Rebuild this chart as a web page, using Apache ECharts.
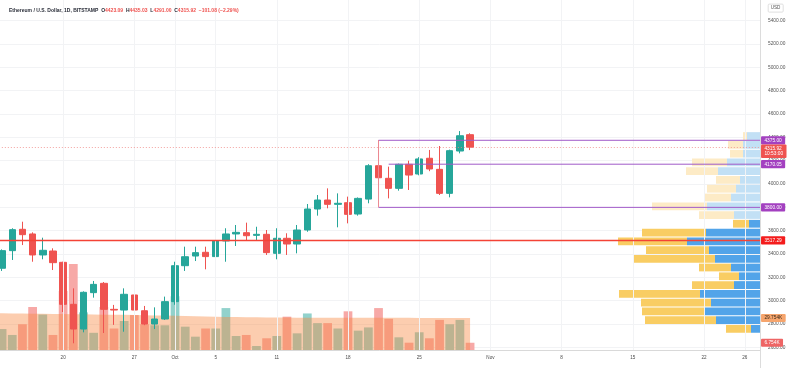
<!DOCTYPE html>
<html><head><meta charset="utf-8">
<script src="https://cdn.jsdelivr.net/npm/echarts@6/dist/echarts.min.js"></script>
<style>html,body{margin:0;padding:0;background:#fff}#c{width:795px;height:368px}</style>
</head><body><div id="c"></div>
<script>
// ---------- data ----------
const dates = ['Sep 13','Sep 14','Sep 15','Sep 16','Sep 17','Sep 18','Sep 19','Sep 20','Sep 21','Sep 22','Sep 23','Sep 24','Sep 25','Sep 26','Sep 27','Sep 28','Sep 29','Sep 30',
'Oct 1','Oct 2','Oct 3','Oct 4','Oct 5','Oct 6','Oct 7','Oct 8','Oct 9','Oct 10','Oct 11','Oct 12','Oct 13','Oct 14','Oct 15','Oct 16','Oct 17','Oct 18','Oct 19','Oct 20','Oct 21','Oct 22','Oct 23','Oct 24','Oct 25','Oct 26','Oct 27','Oct 28','Oct 29','Oct 30','Oct 31',
'Nov 1','Nov 2','Nov 3','Nov 4','Nov 5','Nov 6','Nov 7','Nov 8','Nov 9','Nov 10','Nov 11','Nov 12','Nov 13','Nov 14','Nov 15','Nov 16','Nov 17','Nov 18','Nov 19','Nov 20','Nov 21','Nov 22','Nov 23','Nov 24','Nov 25','Nov 26','Nov 27'];
// candles Sep 14 .. Oct 30
const opens  = [3278,3429,3612,3572,3392,3426,3329,2969,2757,3069,3149,2926,2920,3049,2914,2800,2843,2992,3300,3383,3415,3378,3512,3572,3583,3560,3569,3406,3535,3486,3606,3786,3863,3826,3840,3743,3871,4157,4049,3963,4169,4086,4221,4126,3920,4283,4423.09];
const closes = [3429,3609,3566,3392,3432,3326,2969,2757,3072,3140,2926,2920,3055,2920,2800,2843,2992,3300,3377,3412,3378,3512,3572,3586,3557,3569,3412,3535,3486,3606,3786,3863,3826,3835,3740,3877,4157,4054,3963,4169,4077,4215,4129,3920,4286,4414,4315.92];
const lows   = [3255,3349,3477,3334,3355,3263,2903,2635,2729,3026,2723,2793,2734,2915,2790,2757,2835,2965,3255,3340,3269,3370,3334,3469,3520,3520,3392,3355,3392,3406,3591,3729,3792,3629,3663,3729,3835,3950,3877,3943,3949,4075,4110,3906,3886,4263,4291.00];
const highs  = [3440,3621,3677,3586,3540,3449,3334,3106,3080,3169,3160,2964,3106,3163,2955,2943,3035,3334,3463,3463,3463,3540,3621,3649,3669,3634,3606,3621,3578,3649,3829,3906,3963,3920,3892,3885,4170,4375,4149,4175,4200,4230,4292,4326,4295,4454,4435.03];
// volume (thousands) Sep 14 .. Oct 30
const volumes = [19.5,14,24,40,33,14,55,80,35,16,40,20,27,32.5,24,23,23,50,21.7,12.4,20,20,39,13,14,3.7,10.9,13,31,15.5,34,25,25,20,36,18,21,39,29,11.8,6.8,16.5,10.9,28,24,28,6.754];
// volume moving average (thousands) Sep 13 .. Oct 30
const volumeMA = [34.2,34.1,34.0,33.9,33.8,33.7,33.6,33.5,33.3,33.2,33.0,32.9,32.8,32.7,32.6,32.4,32.2,32.0,31.8,31.6,31.4,31.2,31.0,30.8,30.6,30.5,30.4,30.3,30.2,30.2,30.1,30.1,30.0,30.0,30.0,30.0,30.0,29.9,29.9,29.9,29.9,29.9,29.8,29.8,29.8,29.8,29.8,29.754];
// volume profile rows, top to bottom
const profileEdges = [4449,4373,4298,4223,4148,4073,3998,3922,3847,3772,3697,3622,3547,3472,3397,3322,3247,3172,3096,3021,2946,2871,2796,2721];
const profileDown = [4,15,13,35,32,24,29,27,55,35,16,64,69,63,81,32,20,42,81,70,63,71,25];
const profileUp   = [13,17,17,33,42,20,24,29,53,26,11,54,73,51,45,29,21,26,60,49,55,44,9];
const valueAreaFirstRow = 10;
// date tick labels
const dateTicks = [['Sep 20','20'],['Sep 27','27'],['Oct 1','Oct'],['Oct 5','5'],['Oct 11','11'],['Oct 18','18'],['Oct 25','25'],['Nov 1','Nov'],['Nov 8','8'],['Nov 15','15'],['Nov 22','22'],['Nov 26','26']];
// drawn levels
const rangeLines = [['Oct 21',4375],['Oct 22',4170.05],['Oct 21',3800]];
const rangeEdge = [['Oct 21',3800,4375]];
const pocPrice = 3517.29, lastPrice = 4315.92;
const lastVolume = 6.754, maVolume = 29.754;

// ---------- chart ----------
const FONT = '"Liberation Sans", Arial, sans-serif';
const UP = '#26a69a', DOWN = '#ef5350';
const VOL_UP = '#92d2cc', VOL_DOWN = '#f7a9a7';
const PURPLE_LINE = '#a05ac8', PURPLE_TAG = '#a340c0';
const FS = 4.8;
const tickMap = Object.fromEntries(dateTicks);

const gridX = {left: -13.17, width: 773.2, outerBoundsMode: 'none', containLabel: false};
const candleData = ['-'].concat(opens.map((o, i) => [o, closes[i], lows[i], highs[i]]));
const volData = ['-'].concat(volumes.map((v, i) => ({value: v, itemStyle: {color: closes[i] >= opens[i] ? VOL_UP : VOL_DOWN}})));
const profileData = profileDown.map((d, i) => [d, profileUp[i], profileEdges[i + 1], profileEdges[i], i]);

function tag(value, text, bg, color, extra, labelExtra) {
  return Object.assign({
    yAxis: value,
    lineStyle: {color: 'rgba(0,0,0,0)', width: 0},
    label: Object.assign({show: true, position: 'end', distance: 1, formatter: text, backgroundColor: bg, color: color || '#fff',
      fontSize: FS, fontFamily: FONT, padding: [1.4, 3.4], lineHeight: 5.4, borderRadius: 1, opacity: 1}, labelExtra || {})
  }, extra || {});
}

const hiddenCat = (gi) => ({type: 'category', gridIndex: gi, data: dates, boundaryGap: true, show: false});

const option = {
  animation: false,
  backgroundColor: '#ffffff',
  title: [{
    left: 4, top: 3,
    text: '{n|Ethereum / U.S. Dollar, 1D, BITSTAMP}  {k|O}{v|4423.09}  {k|H}{v|4435.03}  {k|L}{v|4291.00}  {k|C}{v|4315.92}  {v|−101.08 (−2.29%)}',
    textStyle: {fontSize: 5, fontFamily: FONT, rich: {
      n: {fontSize: 5, color: '#2a2e39', fontFamily: FONT},
      k: {fontSize: 5, color: '#2a2e39', fontFamily: FONT},
      v: {fontSize: 5, color: '#ef5350', fontFamily: FONT}
    }}
  }, {
    text: 'USD', right: 12, top: 4, padding: [1.6, 2.6], borderColor: '#d8d8d8', borderWidth: 0.8, borderRadius: 1,
    textStyle: {fontSize: 4.6, color: '#555', fontFamily: FONT, fontWeight: 'normal'}
  }],
  grid: [
    Object.assign({top: 0, height: 350}, gridX),          // frame / date axis
    Object.assign({top: -2.63, height: 373.33}, gridX),   // candles / price
    Object.assign({top: 242.5, height: 107.5}, gridX),    // volume
    {left: 0, width: 760, top: -2.63, height: 373.33, outerBoundsMode: 'none', containLabel: false}     // volume profile
  ],
  xAxis: [
    {type: 'category', gridIndex: 0, data: dates, boundaryGap: true,
      axisLine: {show: true, lineStyle: {color: '#d9d9d9', width: 1}},
      axisTick: {show: false},
      axisLabel: {interval: (i, v) => tickMap[v] !== undefined, formatter: v => tickMap[v] || '',
        fontSize: 4.6, color: '#4a4a4a', fontFamily: FONT, margin: 5},
      splitLine: {show: false}},
    hiddenCat(1), hiddenCat(2),
    {type: 'value', gridIndex: 3, min: 0, max: 760, inverse: true, show: false}
  ],
  yAxis: [
    {type: 'value', gridIndex: 0, min: 0, max: 1, show: false},
    {type: 'value', gridIndex: 1, min: 2400, max: 5600, interval: 200, position: 'right',
      axisLine: {show: true, lineStyle: {color: '#dcdcdc'}}, axisTick: {show: false},
      axisLabel: {formatter: v => v.toFixed(2), fontSize: FS, color: '#555', fontFamily: FONT, margin: 8},
      splitLine: {show: true, lineStyle: {color: '#f2f3f5', width: 1}}},
    {type: 'value', gridIndex: 2, min: 0, max: 100, show: false},
    {type: 'value', gridIndex: 3, min: 2400, max: 5600, show: false}
  ],
  series: [
    { // vertical grid lines
      type: 'line', xAxisIndex: 0, yAxisIndex: 0, data: [], silent: true, z: 0,
      markLine: {silent: true, symbol: ['none', 'none'], label: {show: false},
        lineStyle: {color: '#f2f3f5', width: 1, type: 'solid'},
        data: dateTicks.map(d => ({xAxis: d[0]}))}
    },
    { // volume profile
      type: 'custom', xAxisIndex: 3, yAxisIndex: 3, data: profileData, silent: true, z: 1,
      encode: {x: [0, 1], y: [2, 3]},
      renderItem: (params, api) => {
        const down = api.value(0), up = api.value(1), lo = api.value(2), hi = api.value(3), row = api.value(4);
        const va = row >= valueAreaFirstRow;
        const pR = api.coord([0, hi]);
        const pB = api.coord([up, lo]);
        const pY = api.coord([up + down, lo]);
        const top = pR[1] + 0.5, h = pB[1] - pR[1] - 1;
        return {type: 'group', children: [
          {type: 'rect', shape: {x: pB[0], y: top, width: pR[0] - pB[0], height: h}, style: {fill: va ? '#52a4e9' : '#c2e0f5'}},
          {type: 'rect', shape: {x: pY[0], y: top, width: pB[0] - pY[0], height: h}, style: {fill: va ? '#f9cd63' : '#fdebc6'}}
        ]};
      }
    },
    { // volume bars
      type: 'bar', xAxisIndex: 2, yAxisIndex: 2, data: volData, barWidth: '86%', z: 2, silent: true,
      markLine: {silent: true, symbol: ['none', 'none'], z: 8, data: [
        tag(maVolume, '29.754K', '#f6a56d', '#3a2a1a'),
        tag(lastVolume, '6.754K', '#ee6565', '#fff')
      ]}
    },
    { // volume MA band
      type: 'line', xAxisIndex: 2, yAxisIndex: 2, data: volumeMA, showSymbol: false, silent: true, z: 3,
      lineStyle: {width: 0, opacity: 0}, areaStyle: {color: 'rgba(247,136,64,0.42)', opacity: 1}
    },
    { // candles
      type: 'candlestick', xAxisIndex: 1, yAxisIndex: 1, data: candleData, barWidth: 7, z: 4, silent: true,
      itemStyle: {color: UP, color0: DOWN, borderColor: UP, borderColor0: DOWN, borderWidth: 1},
      markLine: {silent: true, symbol: ['none', 'none'], z: 8, data: [
        tag(pocPrice, '3517.29', '#f41c1c', '#fff', {lineStyle: {color: '#f44336', width: 1.4, type: 'solid'}}),
        tag(4375, '4375.00', PURPLE_TAG),
        tag(lastPrice, '4315.92\n10:53:00', '#ef5350', '#fff', {lineStyle: {color: '#f08a88', width: 0.8, type: [1, 2]}}, {offset: [0, 4]}),
        tag(4170.05, '4170.05', PURPLE_TAG),
        tag(3800, '3800.00', PURPLE_TAG)
      ]}
    },
    { // range lines
      type: 'custom', xAxisIndex: 1, yAxisIndex: 1, data: rangeLines, silent: true, z: 5,
      encode: {x: 0, y: 1},
      renderItem: (params, api) => {
        const p = api.coord([api.value(0), api.value(1)]);
        const cs = params.coordSys;
        return {type: 'line', shape: {x1: p[0], y1: p[1], x2: cs.x + cs.width, y2: p[1]}, style: {stroke: PURPLE_LINE, lineWidth: 1}};
      }
    },
    { // range left edge
      type: 'custom', xAxisIndex: 1, yAxisIndex: 1, data: rangeEdge, silent: true, z: 5,
      encode: {x: 0, y: [1, 2]},
      renderItem: (params, api) => {
        const a = api.coord([api.value(0), api.value(1)]);
        const b = api.coord([api.value(0), api.value(2)]);
        return {type: 'line', shape: {x1: a[0], y1: a[1], x2: b[0], y2: b[1]}, style: {stroke: '#ec8a93', lineWidth: 1}};
      }
    }
  ]
};
const chart = echarts.init(document.getElementById('c'));
chart.setOption(option);
</script></body></html>
